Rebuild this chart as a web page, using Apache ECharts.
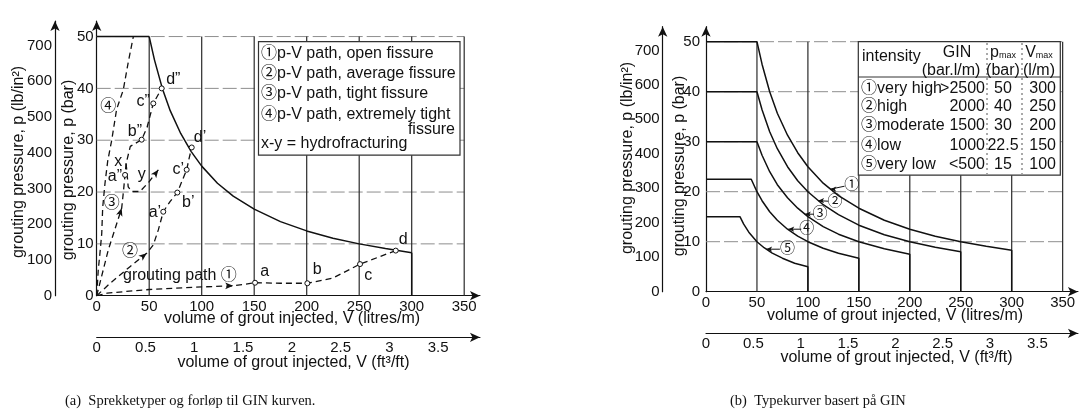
<!DOCTYPE html>
<html><head><meta charset="utf-8">
<script src="https://cdn.jsdelivr.net/npm/echarts@6/dist/echarts.min.js"></script>
<style>html,body{margin:0;padding:0;background:#fff}#c{width:1080px;height:419px}</style>
</head><body><div id="c"></div>
<script>
// ================= DATA =================
const litreTicks = [0, 50, 100, 150, 200, 250, 300, 350];
const ftTicks = [0, 0.5, 1, 1.5, 2, 2.5, 3, 3.5];
const barTicks = [0, 10, 20, 30, 40, 50];
const psiTicks = [0, 100, 200, 300, 400, 500, 600, 700];
const vGrid = [50, 100, 150, 200, 250, 300, 350];
const pGrid = [10, 20, 30, 40, 50];

// (a) GIN envelope and p-V paths  [V litres/m, p bar]
const envFlat = [[0, 50], [50, 50]];
const envCurve = [[50, 50], [55, 45.5], [62.5, 40], [70, 35.7], [80, 31.3], [90, 27.8], [100, 25], [115, 21.7], [130, 19.2], [150, 16.7], [175, 14.3], [200, 12.5], [225, 11.1], [250, 10], [275, 9.1], [300, 8.3]];
const envDrop = [[300, 8.3], [300, 0]];
const path1 = [[0, 0], [10, 0.5], [50, 1.2], [100, 1.7], [130, 1.9], [150.8, 2.5], [175, 2.4], [200.6, 2.4], [225, 3.4], [250.8, 6.1], [284.8, 8.7]];
const path2 = [[0, 0], [12.8, 2.4], [31.7, 5.6], [47.6, 8.2], [53.9, 9.8], [58.7, 12.7], [63.4, 16.2], [70, 18.2], [76.8, 19.9], [81, 22], [85.7, 24.3], [88, 26.5], [90.5, 28.6]];
const path3 = [[0, 0], [11, 8.8], [23.8, 16.9], [25.3, 19.8], [27, 23.3], [28, 25.5], [32, 28.8], [42.8, 30.1], [48, 32.5], [53.9, 37.1], [61.9, 40]];
const path3Loop = [[28, 25.5], [28.6, 24.3], [30, 21], [33.3, 20.1], [41.2, 20.1], [50, 22], [58.7, 24.3]];
const path4 = [[0, 0], [1.5, 5], [3, 8], [4.8, 12], [5.7, 17], [7.9, 21.7], [10.5, 26], [14.3, 30], [19, 36], [25.3, 39.7], [30, 45], [34.9, 50]];
const pathPoints = [[150.8, 2.5], [200.6, 2.4], [250.8, 6.1], [284.8, 8.7], [63.4, 16.2], [76.8, 19.9], [85.7, 24.3], [90.5, 28.6], [27, 23.3], [42.8, 30.1], [53.9, 37.1], [61.9, 40]];
const pathArrows = [[130, 1.9, -90], [47.6, 8.2, -51], [23.8, 16.9, -18], [58.7, 24.3, -37]];
const labelsA = [[160, 4.6, 'a'], [210, 5, 'b'], [258.7, 3.8, 'c'], [292, 10.8, 'd'],
  [55.5, 16, 'a’'], [87.2, 18, 'b’'], [77.7, 24.3, 'c’'], [98.4, 30.4, 'd’'],
  [17.4, 23, 'a”'], [36.5, 31.7, 'b”'], [44.4, 37.5, 'c”'], [73, 41.6, 'd”'],
  [20.6, 25.9, 'x'], [42.9, 23.3, 'y'],
  [11, 36.5, '④'], [14.3, 17.8, '③'], [31.7, 8.5, '②'], [79.3, 3.8, 'grouting path ①']];
const legendA = ['①p-V path, open fissure', '②p-V path, average fissure', '③p-V path, tight fissure', '④p-V path, extremely tight', 'fissure', 'x-y = hydrofracturing'];

// (b) GIN type curves
const curve1 = [[0, 50], [50, 50], [55, 45.5], [62.5, 40], [70, 35.7], [80, 31.3], [90, 27.8], [100, 25], [115, 21.7], [130, 19.2], [150, 16.7], [175, 14.3], [200, 12.5], [225, 11.1], [250, 10], [275, 9.1], [300, 8.3], [300, 0]];
const curve2 = [[0, 40], [50, 40], [55, 36.4], [62.5, 32], [70, 28.6], [80, 25], [90, 22.2], [100, 20], [115, 17.4], [130, 15.4], [150, 13.3], [175, 11.4], [200, 10], [225, 8.9], [250, 8], [250, 0]];
const curve3 = [[0, 30], [50, 30], [55, 27.3], [62.5, 24], [70, 21.4], [80, 18.8], [90, 16.7], [100, 15], [115, 13], [130, 11.5], [150, 10], [175, 8.6], [200, 7.5], [200, 0]];
const curve4 = [[0, 22.5], [44.4, 22.5], [50, 20], [55, 18.2], [62.5, 16], [70, 14.3], [80, 12.5], [90, 11.1], [100, 10], [115, 8.7], [130, 7.7], [150, 6.7], [150, 0]];
const curve5 = [[0, 15], [33.3, 15], [37, 13.5], [42, 11.9], [50, 10], [57, 8.8], [65, 7.7], [75, 6.7], [87, 5.7], [100, 5], [100, 0]];
const curveLabels = [[143, 21.3, '①'], [126.6, 18, '②'], [112, 15.5, '③'], [98.8, 12.5, '④'], [80, 8.5, '⑤']];
const leaders = [[[122, 20.5], [136, 21.1]], [[110, 18.2], [120, 18.1]], [[97, 15.5], [106, 15.5]], [[80.7, 12.5], [93.5, 12.5]], [[59, 8.5], [72.5, 8.5]]];
const tableHeadTop = ['intensity', 'GIN', 'p', 'V'];
const tableHeadUnits = ['(bar.l/m)', '(bar)', '(l/m)'];
const intensity = ['①very high', '②high', '③moderate', '④low', '⑤very low'];
const ginValues = ['>2500', '2000', '1500', '1000', '<500'];
const pMaxValues = ['50', '40', '30', '22.5', '15'];
const vMaxValues = ['300', '250', '200', '150', '100'];

const litreAxisName = 'volume of grout injected, V (litres/m)';
const ftAxisName = 'volume of grout injected, V (ft³/ft)';
const barAxisName = 'grouting pressure, p (bar)';
const psiAxisName = 'grouting pressure, p (lb/in²)';
const captions = ['(a)  Sprekketyper og forløp til GIN kurven.', '(b)  Typekurver basert på GIN'];

// ================= CHART =================
const FONT = '"Liberation Sans", Arial, Helvetica, "Noto Sans CJK SC", sans-serif';
const SERIF = '"Liberation Serif", "Times New Roman", serif';
const INK = '#111';
const XMAX = 365, YMAX = 53, LPF = 92.903, PSI = 14.5038;

const grids = [
  {left: 96.7, top: 295.7 - YMAX * 5.183, width: XMAX * 1.05, height: YMAX * 5.183},
  {left: 706, top: 291.7 - YMAX * 5.0, width: XMAX * 1.019, height: YMAX * 5.0}
];
const axLine = {show: true, onZero: false, symbol: ['none', 'arrow'], symbolSize: [7, 10], lineStyle: {color: INK, width: 1.2}};
const lab = (m, f) => ({margin: m, color: INK, fontSize: 15, fontFamily: FONT, formatter: f});
const keep = ticks => v => ticks.some(t => Math.abs(t - v) < 1e-6) ? String(v) : '';

const xAxes = [], yAxes = [];
[0, 1].forEach(g => {
  xAxes.push({type: 'value', gridIndex: g, position: 'bottom', min: 0, max: XMAX, interval: 50,
    axisLine: axLine, axisTick: {show: false}, splitLine: {show: false}, axisLabel: lab(4, keep(litreTicks))});
  xAxes.push({type: 'value', gridIndex: g, position: 'bottom', offset: 41.6, min: 0, max: XMAX / LPF, interval: 0.5,
    axisLine: axLine, axisTick: {show: false}, splitLine: {show: false}, axisLabel: lab(3, keep(ftTicks))});
  yAxes.push({type: 'value', gridIndex: g, position: 'left', min: 0, max: YMAX, interval: 10,
    axisLine: axLine, axisTick: {show: false}, splitLine: {show: false}, axisLabel: lab(g ? 6 : 3, keep(barTicks))});
  yAxes.push({type: 'value', gridIndex: g, position: 'left', offset: g ? 43.3 : 41.7, min: 0, max: YMAX * PSI, interval: 100,
    axisLine: axLine, axisTick: {show: false}, splitLine: {show: false}, axisLabel: lab(3, keep(psiTicks))});
});

const series = [];
function line(g, data, style, z) {
  series.push({type: 'line', xAxisIndex: g * 2, yAxisIndex: g * 2, data, symbol: 'none', silent: true,
    animation: false, lineStyle: style, z: z || 2});
}
function labels(g, data, size) {
  series.push({type: 'scatter', xAxisIndex: g * 2, yAxisIndex: g * 2, data, symbolSize: 0.1,
    itemStyle: {color: 'rgba(0,0,0,0)', opacity: 1}, silent: true, animation: false, z: 6,
    label: {show: true, position: [0, 0], align: 'center', verticalAlign: 'middle', color: INK, opacity: 1,
      textBorderWidth: 0, fontSize: size || 16, fontFamily: FONT, formatter: p => p.data[2]}});
}
const gridV = {color: '#2b2b2b', width: 1.2};
const gridH = {color: '#8e8e8e', width: 1, type: [14, 4]};
const solid = {color: INK, width: 1.5};
const dash = {color: INK, width: 1.3, type: [6, 4]};

[0, 1].forEach(g => {
  pGrid.forEach(p => line(g, [[0, p], [350, p]], gridH, 1));
  vGrid.forEach(v => line(g, [[v, 0], [v, 50]], gridV, 1));
});

// (a)
line(0, envFlat, solid, 4);
line(0, envCurve, solid, 4);
line(0, envDrop, solid, 4);
[path1, path2, path3, path3Loop, path4].forEach(p => line(0, p, dash, 3));
series.push({type: 'scatter', xAxisIndex: 0, yAxisIndex: 0, data: pathPoints, symbol: 'circle', symbolSize: 5,
  itemStyle: {color: '#fff', borderColor: INK, borderWidth: 1, opacity: 1}, silent: true, animation: false, z: 5});
series.push({type: 'scatter', xAxisIndex: 0, yAxisIndex: 0, silent: true, animation: false, z: 5,
  data: pathArrows.map(a => ({value: [a[0], a[1]], symbolRotate: a[2]})), symbol: 'arrow', symbolSize: [5, 8],
  itemStyle: {color: INK, opacity: 1}});
labels(0, labelsA);

// (b)
[curve1, curve2, curve3, curve4, curve5].forEach(c => line(1, c, solid, 4));
leaders.forEach(l => series.push({type: 'line', xAxisIndex: 2, yAxisIndex: 2, silent: true, animation: false, z: 5,
  data: [{value: l[0], symbol: 'arrow', symbolSize: [4, 6], symbolRotate: 90}, {value: l[1], symbol: 'none'}],
  lineStyle: {color: INK, width: 1}, itemStyle: {color: INK}}));
labels(1, curveLabels, 15);

// ---------- graphics (legend box, table, names, captions) ----------
const T = (x, y, text, o) => Object.assign({type: 'text', x, y, z: 100,
  style: Object.assign({text, fill: INK, font: '16px ' + FONT, align: 'left', verticalAlign: 'middle'}, (o || {}).style || {})},
  o ? {rotation: o.rotation || 0} : {});
const graphic = [];
// axis names
[[19, 162, psiAxisName], [69, 170, barAxisName], [628, 158, psiAxisName], [680, 166, barAxisName]].forEach(a =>
  graphic.push(T(a[0], a[1], a[2], {rotation: Math.PI / 2, style: {align: 'center'}})));
[[292, 318.5, litreAxisName], [293.5, 362.5, ftAxisName], [895, 315.5, litreAxisName], [896.5, 358, ftAxisName]].forEach(a =>
  graphic.push(T(a[0], a[1], a[2], {style: {align: 'center'}})));
// captions
graphic.push(T(65, 401, captions[0], {style: {font: '14.5px ' + SERIF}}));
graphic.push(T(730, 401, captions[1], {style: {font: '14.5px ' + SERIF}}));
// legend box (a)
graphic.push({type: 'rect', z: 99, shape: {x: 258.5, y: 41.7, width: 201.5, height: 113.5},
  style: {fill: '#fff', stroke: '#333', lineWidth: 1.2}});
const legY = [53.5, 73.5, 94, 115, 130, 143.5];
legendA.forEach((t, i) => graphic.push(i === 4 ? T(455, legY[i], t, {style: {align: 'right'}}) : T(261, legY[i], t)));
// table (b)
graphic.push({type: 'rect', z: 99, shape: {x: 858.3, y: 41.7, width: 202, height: 133.5},
  style: {fill: '#fff', stroke: '#333', lineWidth: 1.2}});
graphic.push({type: 'line', z: 100, shape: {x1: 858.3, y1: 77, x2: 1060.3, y2: 77}, style: {stroke: '#333', lineWidth: 1}});
[987, 1022].forEach(x => graphic.push({type: 'line', z: 100, shape: {x1: x, y1: 43, x2: x, y2: 174},
  style: {stroke: '#555', lineWidth: 1, lineDash: [2, 3]}}));
graphic.push(T(862, 57, tableHeadTop[0]));
graphic.push(T(957, 53, tableHeadTop[1], {style: {align: 'center'}}));
graphic.push({type: 'text', x: 1003, y: 53, z: 100, style: {text: '{a|' + tableHeadTop[2] + '}{b|max}', align: 'center', verticalAlign: 'middle',
  rich: {a: {fill: INK, font: '16px ' + FONT}, b: {fill: INK, font: '9px ' + FONT, padding: [6, 0, 0, 0]}}}});
graphic.push({type: 'text', x: 1039, y: 53, z: 100, style: {text: '{a|' + tableHeadTop[3] + '}{b|max}', align: 'center', verticalAlign: 'middle',
  rich: {a: {fill: INK, font: '16px ' + FONT}, b: {fill: INK, font: '9px ' + FONT, padding: [6, 0, 0, 0]}}}});
[[951, tableHeadUnits[0]], [1003, tableHeadUnits[1]], [1039, tableHeadUnits[2]]].forEach(a =>
  graphic.push(T(a[0], 70.5, a[1], {style: {align: 'center'}})));
const rowY = [88.5, 106.5, 125.5, 146, 165];
intensity.forEach((t, i) => {
  graphic.push(T(861, rowY[i], t));
  graphic.push(T(985, rowY[i], ginValues[i], {style: {align: 'right'}}));
  graphic.push(T(1003, rowY[i], pMaxValues[i], {style: {align: 'center'}}));
  graphic.push(T(1056, rowY[i], vMaxValues[i], {style: {align: 'right'}}));
});

const chart = echarts.init(document.getElementById('c'), null, {renderer: 'canvas'});
chart.setOption({
  animation: false,
  backgroundColor: '#fff',
  grid: grids.map(g => Object.assign({outerBoundsMode: 'none', containLabel: false}, g)),
  xAxis: xAxes,
  yAxis: yAxes,
  series,
  graphic
});
</script></body></html>
